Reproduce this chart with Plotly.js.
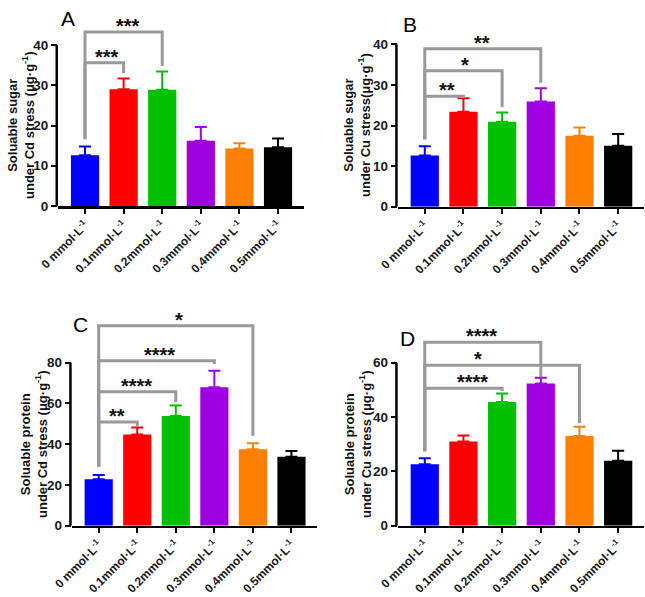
<!DOCTYPE html>
<html><head><meta charset="utf-8">
<script src="https://cdn.plot.ly/plotly-3.0.1.min.js"></script>
<style>html,body{margin:0;padding:0;background:#fff}</style>
</head><body><div id="chart" style="width:645px;height:597px"></div>
<script>
// ---------- data ----------
const categories = ['0 mmol·L<sup>-1</sup>', '0.1mmol·L<sup>-1</sup>', '0.2mmol·L<sup>-1</sup>',
                    '0.3mmol·L<sup>-1</sup>', '0.4mmol·L<sup>-1</sup>', '0.5mmol·L<sup>-1</sup>'];
const barColors = ['#0000ff', '#ff0000', '#00c000', '#a000e0', '#ff8000', '#000000'];

const sugarCdMean = [12.6, 29.0, 28.9, 16.2, 14.3, 14.6];
const sugarCdSD   = [2.2, 2.7, 4.5, 3.4, 1.3, 2.2];
const sugarCuMean = [12.6, 23.4, 20.9, 25.9, 17.5, 15.0];
const sugarCuSD   = [2.3, 3.3, 2.3, 3.3, 2.0, 2.9];
const proteinCdMean = [22.8, 44.7, 53.8, 68.0, 37.5, 33.9];
const proteinCdSD   = [2.1, 3.5, 5.2, 8.1, 3.0, 2.8];
const proteinCuMean = [22.6, 31.0, 45.5, 52.3, 33.0, 23.9];
const proteinCuSD   = [2.2, 2.2, 3.2, 2.2, 3.4, 3.7];

// significance comparisons (control vs group index)
const sigSugarCdTarget = [1, 2];
const sigSugarCdLabel  = ['***', '***'];
const sigSugarCuTarget = [1, 2, 3];
const sigSugarCuLabel  = ['**', '*', '**'];
const sigProteinCdTarget = [1, 2, 3, 4];
const sigProteinCdLabel  = ['**', '****', '****', '*'];
const sigProteinCuTarget = [2, 4, 3];
const sigProteinCuLabel  = ['****', '*', '****'];

const yTitles = [
  'Soluable sugar<br>under Cd stress (μg·g<sup>-1</sup>)',
  'Soluable sugar<br>under Cu stress(μg·g<sup>-1</sup>)',
  'Soluable protein<br>under Cd stress (μg·g<sup>-1</sup>)',
  'Soluable protein<br>under Cu stress (μg·g<sup>-1</sup>)'
];
const panelLetters = ['A', 'B', 'C', 'D'];

// ---------- layout geometry (pixels) ----------
const W = 645, H = 597;
const FONT = 'Arial, "Liberation Sans", sans-serif';
const panels = [
  {mean: sugarCdMean, sd: sugarCdSD, tgt: sigSugarCdTarget, lab: sigSugarCdLabel,
   bracketY: [35.6, 43.2], bracketEnd: [33.0, 34.8], ctrlDrop: 16.6, labelX: [0.57, 1.12],
   left: 58, right: 303.5, zero: 206, unit: 4.025, rTop: 46, tMax: 40, dt: 10,
   letter: [68, 18], title: [21, 125]},
  {mean: sugarCuMean, sd: sugarCuSD, tgt: sigSugarCuTarget, lab: sigSugarCuLabel,
   bracketY: [27.2, 33.5, 38.9], bracketEnd: [26.8, 24.5, 30.5], ctrlDrop: 16.6, labelX: [0.58, 1.05, 1.49],
   left: 397.7, right: 643.7, zero: 206.7, unit: 4.06, rTop: 46, tMax: 40, dt: 10,
   letter: [410, 25], title: [357, 125]},
  {mean: proteinCdMean, sd: proteinCdSD, tgt: sigProteinCdTarget, lab: sigProteinCdLabel,
   bracketY: [50.9, 65.8, 81.0, 98.1], bracketEnd: [48.8, 60.6, 79.4, 44.1], ctrlDrop: 29, labelX: [0.47, 0.98, 1.57, 2.09],
   left: 71.7, right: 316.9, zero: 525.7, unit: 2.0375, rTop: 108, tMax: 80, dt: 20,
   letter: [80, 324], title: [34, 444]},
  {mean: proteinCuMean, sd: proteinCuSD, tgt: sigProteinCuTarget, lab: sigProteinCuLabel,
   bracketY: [50.6, 59.1, 67.5], bracketEnd: [49.6, 37.7, 54.6], ctrlDrop: 27.4, labelX: [1.24, 1.38, 1.46],
   left: 397.7, right: 643.7, zero: 525.7, unit: 2.717, rTop: 76, tMax: 60, dt: 20,
   letter: [407, 338], title: [358, 444]}
];

const traces = [];
const shapes = [];
const annotations = [];
const layout = {
  width: W, height: H,
  margin: {l: 0, r: 0, t: 0, b: 0},
  paper_bgcolor: '#fff', plot_bgcolor: 'rgba(0,0,0,0)',
  barmode: 'overlay', bargap: 0.27,
  showlegend: false,
  font: {family: FONT, color: '#000'},
  shapes: shapes, annotations: annotations
};

panels.forEach((p, i) => {
  const n = i === 0 ? '' : String(i + 1);
  const xa = 'x' + n, ya = 'y' + n;
  const topPx = p.zero - p.rTop * p.unit;
  const ticks = [];
  for (let v = 0; v <= p.tMax; v += p.dt) ticks.push(v);

  layout['xaxis' + n] = {
    domain: [p.left / W, p.right / W], anchor: ya, type: 'category',
    range: [-0.7, 5.66], showline: true, linecolor: '#000', linewidth: 2.5,
    ticks: 'outside', ticklen: 5, tickwidth: 2, tickcolor: '#000',
    tickangle: -45, tickfont: {family: FONT, size: 12, weight: 'bold', color: '#1a1a1a'},
    showgrid: false, zeroline: false, fixedrange: true
  };
  layout['yaxis' + n] = {
    domain: [1 - p.zero / H, 1 - topPx / H], anchor: xa,
    range: [0, p.rTop], showline: false, showgrid: false, zeroline: false,
    tickvals: ticks, ticks: 'outside', ticklen: 6, tickwidth: 2, tickcolor: '#000',
    tickfont: {family: FONT, size: 13.5, weight: 'bold', color: '#1a1a1a'}, fixedrange: true
  };
  // y axis line limited to the tick span
  shapes.push({type: 'line', xref: 'paper', yref: ya,
    x0: (p.left - 1.25) / W, x1: (p.left - 1.25) / W, y0: 0, y1: p.tMax,
    line: {color: '#000', width: 2.5}});

  categories.forEach((c, k) => {
    traces.push({
      type: 'bar', x: [c], y: [p.mean[k]], xaxis: xa, yaxis: ya,
      marker: {color: barColors[k], line: {width: 0}},
      error_y: {type: 'data', symmetric: false, array: [p.sd[k]], arrayminus: [0],
                color: barColors[k], thickness: 2, width: 6},
      hoverinfo: 'skip'
    });
  });

  p.tgt.forEach((t, j) => {
    traces.push({
      type: 'scatter', mode: 'lines', xaxis: xa, yaxis: ya,
      x: [categories[0], categories[0], categories[t], categories[t]],
      y: [p.ctrlDrop, p.bracketY[j], p.bracketY[j], p.bracketEnd[j]],
      line: {color: '#999999', width: 3}, hoverinfo: 'skip'
    });
    annotations.push({
      xref: xa, yref: ya, x: p.labelX[j], y: p.bracketY[j],
      xanchor: 'center', yanchor: 'bottom', yshift: -7, showarrow: false,
      text: p.lab[j], font: {family: FONT, size: 20, weight: 'bold', color: '#111'}
    });
  });

  annotations.push({
    xref: 'paper', yref: 'paper', x: p.letter[0] / W, y: 1 - p.letter[1] / H,
    xanchor: 'center', yanchor: 'middle', showarrow: false,
    text: panelLetters[i], font: {family: FONT, size: 21, color: '#000'}
  });
  annotations.push({
    xref: 'paper', yref: 'paper', x: p.title[0] / W, y: 1 - p.title[1] / H,
    xanchor: 'center', yanchor: 'middle', showarrow: false, textangle: -90,
    text: yTitles[i], font: {family: FONT, size: 13, weight: 'bold', color: '#111'}
  });
});

Plotly.newPlot('chart', traces, layout, {displayModeBar: false, staticPlot: true});
</script>
</body></html>
